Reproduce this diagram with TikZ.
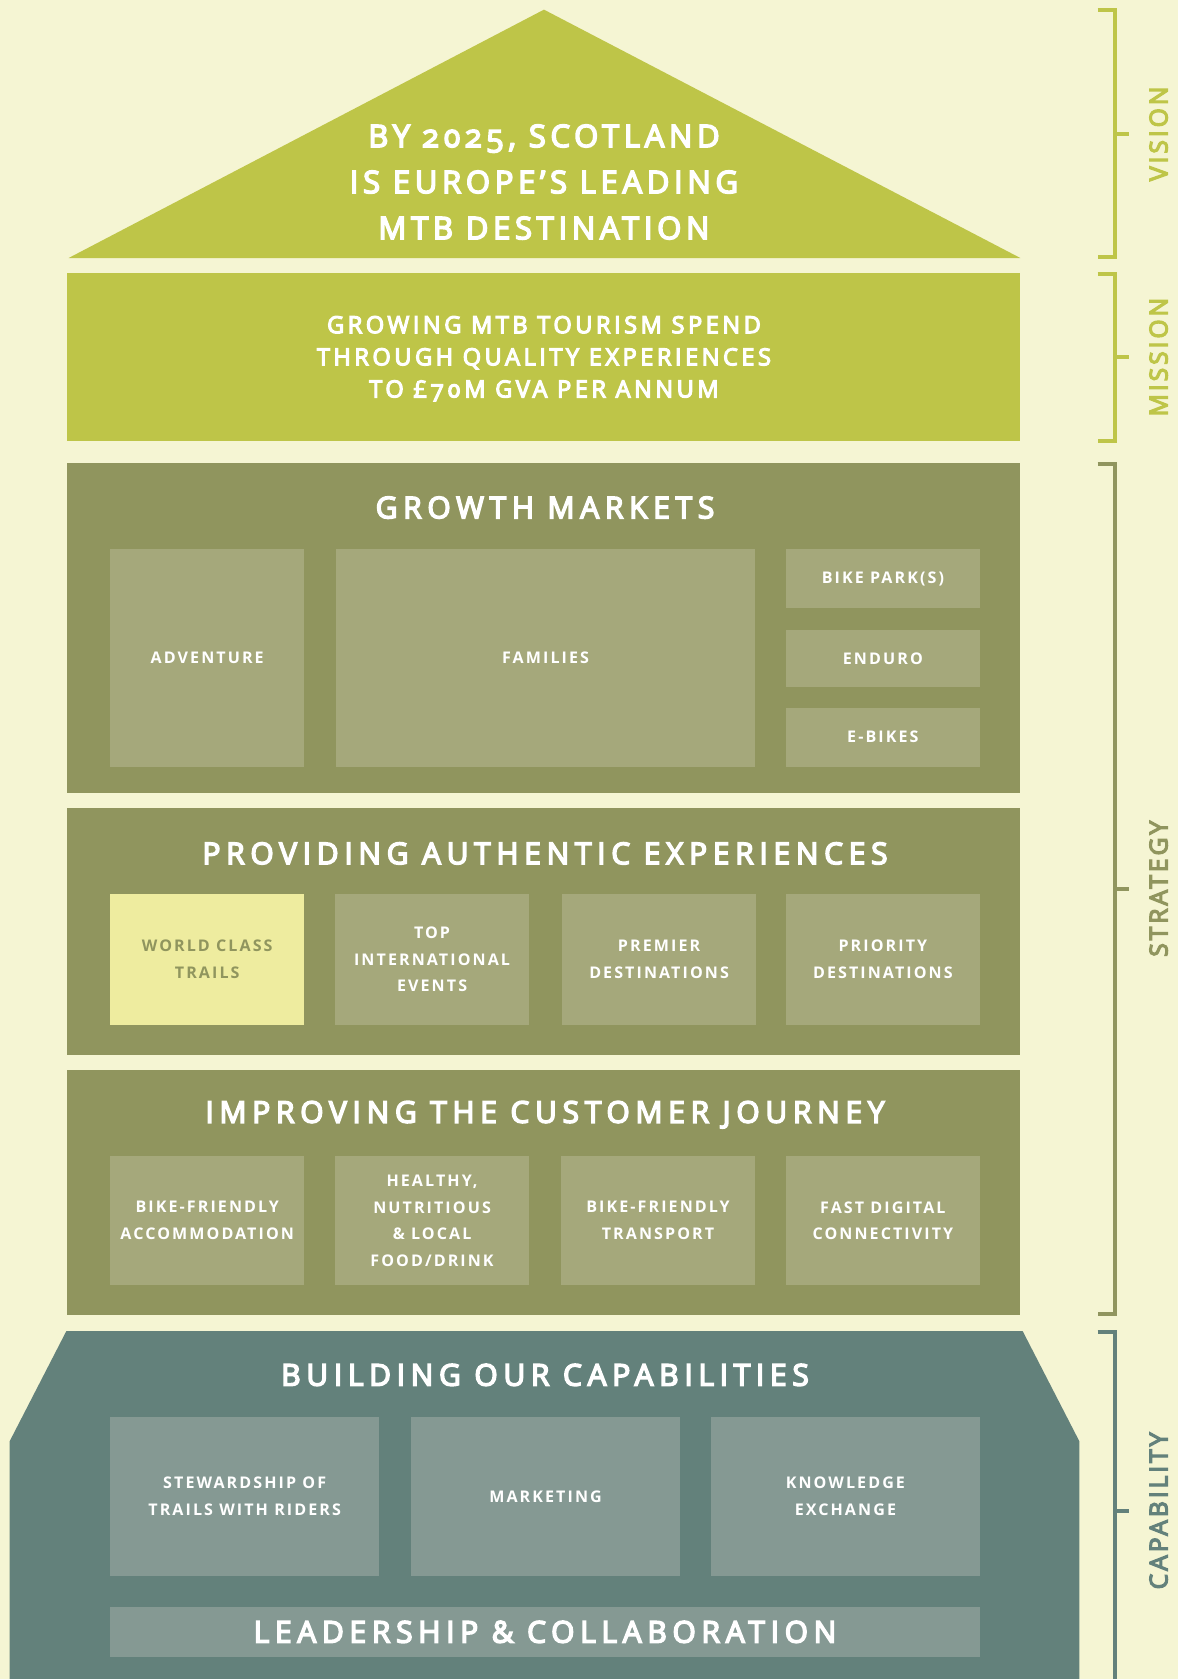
\documentclass[tikz,border=0pt]{standalone}
\usepackage{fontspec}
\setmainfont{Open Sans}[Numbers=OldStyle]
\newfontfamily\titlefont{Open Sans}[LetterSpace=19,Numbers=OldStyle,FakeBold=5]
\newfontfamily\rooffont{Open Sans}[LetterSpace=15,Numbers=OldStyle,FakeBold=5]
\newfontfamily\missfont{Open Sans}[LetterSpace=15,Numbers=OldStyle,FakeBold=5]
\newfontfamily\labfont{Open Sans}[LetterSpace=13]
\newfontfamily\sidefont{Open Sans}[LetterSpace=12,FakeBold=5]
\definecolor{bgc}{HTML}{F5F5D3}
\definecolor{lime}{HTML}{BEC548}
\definecolor{olive}{HTML}{90955E}
\definecolor{olivebox}{HTML}{A5A87B}
\definecolor{yellowbox}{HTML}{EEEC9F}
\definecolor{teal}{HTML}{63817B}
\definecolor{tealbox}{HTML}{859993}
\begin{document}
\begin{tikzpicture}[x=1pt,y=-1pt,
  panel/.style={fill=olive, inner sep=0, minimum width=890pt},
  ibox/.style={fill=olivebox, inner sep=0, align=center, text=white,
    font=\labfont\bfseries\fontsize{15}{25}\selectfont},
  ybox/.style={ibox, fill=yellowbox, text=olive},
  tbox/.style={ibox, fill=tealbox},
  sectitle/.style={text=white, font=\titlefont\fontsize{28}{34}\selectfont},
  bigtitle/.style={text=white, align=center, font=\rooffont\fontsize{29}{43}\selectfont},
  midtitle/.style={text=white, align=center, font=\missfont\fontsize{22}{30}\selectfont},
  brk/.style={line width=3.7pt},
  sidelab/.style={rotate=90, font=\sidefont\fontsize{23}{28}\selectfont}
]
\useasboundingbox (0,0) rectangle (1100,1568);
\fill[bgc] (0,0) rectangle (1100,1568);

% Vision roof
\fill[lime] (64,241) -- (508,9) -- (953,241) -- cycle;
\node[bigtitle] (vision) at (508,170) {BY 2025, SCOTLAND\\IS EUROPE’S LEADING\\MTB DESTINATION};

% Mission
\node[fill=lime, minimum width=890pt, minimum height=157pt, inner sep=0] (mission) at (508,333.5) {};
\node[midtitle] (missiontxt) at (508,335) {GROWING MTB TOURISM SPEND\\THROUGH QUALITY EXPERIENCES\\TO £70M GVA PER ANNUM};

% Growth markets
\node[panel, minimum height=309pt] (growth) at (508,586.5) {};
\node[sectitle] (growtht) at (509,474) {GROWTH MARKETS};
\node[ibox, minimum width=181pt, minimum height=203pt] (adv) at (193.5,614.5) {ADVENTURE};
\node[ibox, minimum width=391pt, minimum height=203pt] (fam) at (509.5,614.5) {FAMILIES};
\node[ibox, minimum width=181pt, minimum height=55pt] (bpark) at (824.5,540.5) {BIKE PARK(S)};
\node[ibox, minimum width=181pt, minimum height=54pt] (enduro) at (824.5,615) {ENDURO};
\node[ibox, minimum width=181pt, minimum height=55pt] (ebikes) at (824.5,688.5) {E-BIKES};

% Providing authentic experiences
\node[panel, minimum height=230pt] (prov) at (508,870) {};
\node[sectitle] (provt) at (509,797) {PROVIDING AUTHENTIC EXPERIENCES};
\node[ybox, minimum width=181pt, minimum height=122pt] (wct) at (193.5,896) {WORLD CLASS\\TRAILS};
\node[ibox, minimum width=181pt, minimum height=122pt] (tie) at (403.5,896) {TOP\\INTERNATIONAL\\EVENTS};
\node[ibox, minimum width=181pt, minimum height=122pt] (pd) at (615.5,896) {PREMIER\\DESTINATIONS};
\node[ibox, minimum width=181pt, minimum height=122pt] (prd) at (824.5,896) {PRIORITY\\DESTINATIONS};

% Improving customer journey
\node[panel, minimum height=229pt] (impr) at (508,1113.5) {};
\node[sectitle] (imprt) at (509,1041) {IMPROVING THE CUSTOMER JOURNEY};
\node[ibox, minimum width=181pt, minimum height=120pt] (bfa) at (193.5,1140) {BIKE-FRIENDLY\\ACCOMMODATION};
\node[ibox, minimum width=181pt, minimum height=120pt] (food) at (403.5,1140) {HEALTHY,\\NUTRITIOUS\\\& LOCAL\\FOOD/DRINK};
\node[ibox, minimum width=181pt, minimum height=120pt] (bft) at (614.5,1140) {BIKE-FRIENDLY\\TRANSPORT};
\node[ibox, minimum width=181pt, minimum height=120pt] (fdc) at (824.5,1140) {FAST DIGITAL\\CONNECTIVITY};

% Capabilities
\fill[teal] (62,1243) -- (955,1243) -- (1008,1346) -- (1008,1570) -- (9,1570) -- (9,1346) -- cycle;
\node[sectitle] (capt) at (509,1284) {BUILDING OUR CAPABILITIES};
\node[tbox, minimum width=251pt, minimum height=149pt] (stew) at (228.5,1397.5) {STEWARDSHIP OF\\TRAILS WITH RIDERS};
\node[tbox, minimum width=251pt, minimum height=149pt] (mkt) at (509.5,1397.5) {MARKETING};
\node[tbox, minimum width=251pt, minimum height=149pt] (ke) at (789.5,1397.5) {KNOWLEDGE\\EXCHANGE};
\node[tbox, minimum width=812pt, minimum height=46pt, font=\titlefont\fontsize{28}{34}\selectfont] (lead) at (509,1524) {LEADERSHIP \& COLLABORATION};

% Side brackets
\draw[brk, lime] (1025,9) -- (1041,9) -- (1041,240) -- (1025,240);
\draw[brk, lime] (1041,125) -- (1054,125);
\node[sidelab, text=lime] (vlab) at (1082,125) {VISION};
\draw[brk, lime] (1025,256) -- (1041,256) -- (1041,412) -- (1025,412);
\draw[brk, lime] (1041,333.5) -- (1054,333.5);
\node[sidelab, text=lime] (mlab) at (1082,333.5) {MISSION};
\draw[brk, olive] (1025,433) -- (1041,433) -- (1041,1227) -- (1025,1227);
\draw[brk, olive] (1041,830) -- (1054,830);
\node[sidelab, text=olive] (slab) at (1082,830) {STRATEGY};
\draw[brk, teal] (1025,1244) -- (1041,1244) -- (1041,1570);
\draw[brk, teal] (1041,1411) -- (1054,1411);
\node[sidelab, text=teal] (clab) at (1082,1411) {CAPABILITY};
\end{tikzpicture}
\end{document}
